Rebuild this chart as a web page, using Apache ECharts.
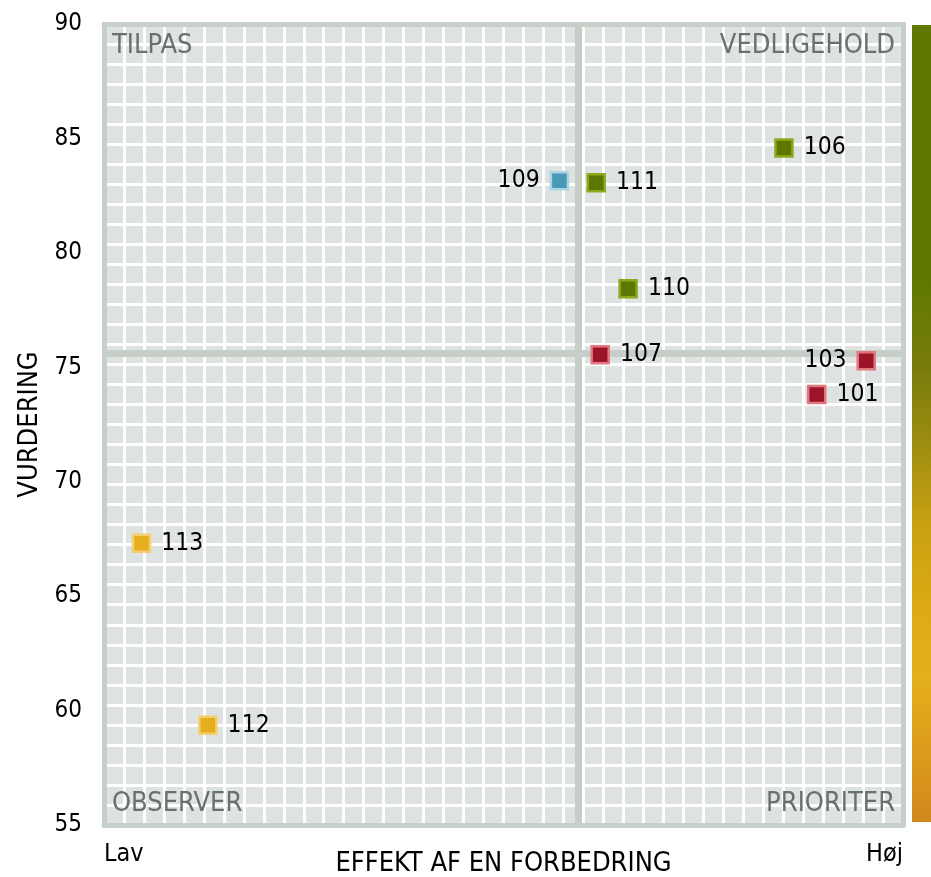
<!DOCTYPE html>
<html>
<head>
<meta charset="utf-8">
<script src="https://cdn.jsdelivr.net/npm/echarts@6/dist/echarts.min.js"></script>
<style>
html,body{margin:0;padding:0;background:#fff;}
#chart{width:931px;height:877px;}
</style>
</head>
<body>
<div id="chart"></div>
<script>
// ---- data ----
const ids = ['101', '103', '106', '107', '109', '110', '111', '112', '113'];
const effect = [89.2, 95.4, 85.1, 62.1, 57.0, 65.6, 61.6, 13.0, 4.7];
const rating = [73.81, 75.29, 84.58, 75.55, 83.15, 78.43, 83.06, 59.36, 67.31];
const status = ['red', 'red', 'green', 'red', 'blue', 'green', 'green', 'yellow', 'yellow'];
const labelLeft = ['103', '109'];
const effectThreshold = 59.4;
const ratingThreshold = 75.6;
const yTicks = [55, 60, 65, 70, 75, 80, 85, 90];
const xEndLabels = ['Lav', 'Høj'];
const quadrantNames = ['TILPAS', 'VEDLIGEHOLD', 'OBSERVER', 'PRIORITER'];

// ---- styles ----
const FONT = '"DejaVu Sans Condensed", "DejaVu Sans", sans-serif';
const palette = {
  red:    { fill: '#9c1428', border: '#e27780' },
  green:  { fill: '#5d7800', border: '#8caa1e' },
  blue:   { fill: '#4898b8', border: '#acd4e4' },
  yellow: { fill: '#e6ae1e', border: '#f3cf72' }
};
const borderColor = '#c6d0c8';

const points = ids.map((id, i) => ({
  value: [effect[i], rating[i], id],
  itemStyle: { color: palette[status[i]].fill, borderColor: palette[status[i]].border, borderWidth: 2.5, opacity: 1 },
  label: { position: labelLeft.includes(id) ? 'left' : 'right' }
}));

const chart = echarts.init(document.getElementById('chart'), null, { renderer: 'canvas' });
const option = {
  animation: false,
  backgroundColor: '#ffffff',
  textStyle: { fontFamily: FONT },
  grid: {
    left: 104, right: 28, top: 24, bottom: 52,
    outerBoundsMode: 'none', containLabel: false,
    show: true, backgroundColor: '#dee2e0', borderWidth: 0
  },
  xAxis: [
    { // main data axis
      type: 'value', min: 0, max: 100, interval: 100, position: 'bottom', z: 2,
      axisLine: { show: true, onZero: false, lineStyle: { color: borderColor, width: 5 } },
      axisTick: { show: false }, splitLine: { show: false },
      axisLabel: {
        show: true, margin: 17, fontSize: 25, color: '#000', fontFamily: FONT,
        alignMinLabel: 'left', alignMaxLabel: 'right',
        formatter: v => (v === 0 ? xEndLabels[0] : xEndLabels[1])
      },
      name: 'EFFEKT AF EN FORBEDRING', nameLocation: 'middle', nameGap: 25, nameMoveOverlap: false,
      nameTextStyle: { fontSize: 27, color: '#000', fontFamily: FONT }
    },
    { // fine grid lines
      type: 'value', min: 0, max: 40, interval: 1, position: 'top', z: 0,
      axisLine: { show: false }, axisTick: { show: false }, axisLabel: { show: false },
      splitLine: { show: true, lineStyle: { color: '#ffffff', width: 3 } }
    },
    { // top border
      type: 'value', min: 0, max: 1, position: 'top', z: 2,
      axisLine: { show: true, onZero: false, lineStyle: { color: borderColor, width: 5 } },
      axisTick: { show: false }, axisLabel: { show: false }, splitLine: { show: false }
    }
  ],
  yAxis: [
    {
      type: 'value', min: 55, max: 90, interval: 5, position: 'left', z: 2,
      axisLine: { show: true, onZero: false, lineStyle: { color: borderColor, width: 5 } },
      axisTick: { show: false }, splitLine: { show: false },
      axisLabel: {
        margin: 22, fontSize: 24, color: '#000', fontFamily: FONT,
        formatter: v => (yTicks.includes(v) ? String(v) : '')
      },
      name: 'VURDERING', nameLocation: 'middle', nameGap: 61, nameMoveOverlap: false,
      nameTextStyle: { fontSize: 27, color: '#000', fontFamily: FONT }
    },
    {
      type: 'value', min: 0, max: 40, interval: 1, position: 'right', z: 0,
      axisLine: { show: false }, axisTick: { show: false }, axisLabel: { show: false },
      splitLine: { show: true, lineStyle: { color: '#ffffff', width: 3 } }
    },
    {
      type: 'value', min: 0, max: 1, position: 'right', z: 2,
      axisLine: { show: true, onZero: false, lineStyle: { color: borderColor, width: 5 } },
      axisTick: { show: false }, axisLabel: { show: false }, splitLine: { show: false }
    }
  ],
  graphic: [
    {
      type: 'rect', right: 0, top: 25, z: 10,
      shape: { width: 19, height: 797 },
      style: {
        fill: new echarts.graphic.LinearGradient(0, 0, 0, 1, [
          { offset: 0, color: '#5e7800' },
          { offset: 0.32, color: '#5f7800' },
          { offset: 0.43, color: '#787c0c' },
          { offset: 0.51, color: '#978a10' },
          { offset: 0.62, color: '#c6a012' },
          { offset: 0.74, color: '#dfab14' },
          { offset: 0.82, color: '#e5af1c' },
          { offset: 1, color: '#d2881c' }
        ])
      }
    }
  ],
  series: [
    {
      type: 'scatter', xAxisIndex: 0, yAxisIndex: 0, z: 4,
      symbol: 'rect', symbolSize: 17,
      data: points,
      label: {
        show: true, fontSize: 24.5, color: '#000', distance: 10, fontFamily: FONT,
        formatter: p => p.value[2]
      },
      markLine: {
        silent: true, z: 1, symbol: 'none',
        lineStyle: { color: '#c5cfc7', width: 7, type: 'solid' },
        label: { show: false },
        data: [{ xAxis: effectThreshold }, { yAxis: ratingThreshold }]
      },
      markArea: {
        silent: true, z: 1,
        itemStyle: { color: 'rgba(0,0,0,0)' },
        label: { fontSize: 27, color: '#66726b', fontFamily: FONT, distance: 8 },
        data: [
          [{ name: quadrantNames[0], coord: [0, ratingThreshold], label: { position: 'insideTopLeft' } }, { coord: [effectThreshold, 90] }],
          [{ name: quadrantNames[1], coord: [effectThreshold, ratingThreshold], label: { position: 'insideTopRight' } }, { coord: [100, 90] }],
          [{ name: quadrantNames[2], coord: [0, 55], label: { position: 'insideBottomLeft' } }, { coord: [effectThreshold, ratingThreshold] }],
          [{ name: quadrantNames[3], coord: [effectThreshold, 55], label: { position: 'insideBottomRight' } }, { coord: [100, ratingThreshold] }]
        ]
      }
    }
  ]
};
chart.setOption(option);
</script>
</body>
</html>
